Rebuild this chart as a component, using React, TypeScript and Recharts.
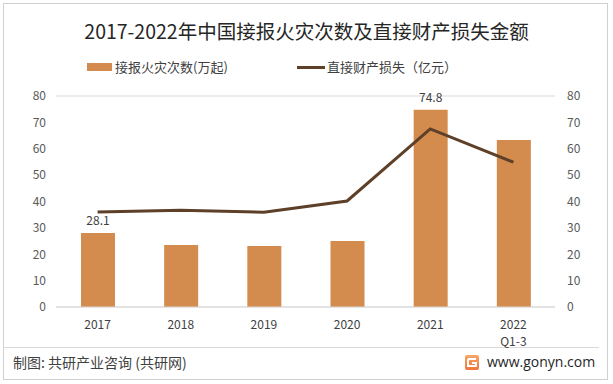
import React from 'react'
import { ComposedChart, Bar, Line, XAxis, YAxis, CartesianGrid, LabelList } from 'recharts'

const categories = ['2017', '2018', '2019', '2020', '2021', '2022\nQ1-3']
const fireCounts = [28.1, 23.5, 23.1, 25.0, 74.8, 63.3]
const directLoss = [36.0, 36.7, 35.9, 40.2, 67.5, 54.9]
const barLabels = ['28.1', '', '', '', '74.8', '']
const yTicks = [0, 10, 20, 30, 40, 50, 60, 70, 80]

const FONT = '"Noto Sans CJK SC", "Microsoft YaHei", sans-serif'
const BAR_COLOR = '#D38B4E'
const LINE_COLOR = '#5E3F28'

const data = categories.map((name, i) => ({
  name,
  fires: fireCounts[i],
  loss: directLoss[i],
  label: barLabels[i],
}))

function CategoryTick({ x, y, payload }: any) {
  const lines = String(payload.value).split('\n')
  return (
    <text x={x} y={y} textAnchor="middle" fill="#404040" fontSize={12} fontFamily={FONT}>
      {lines.map((l, i) => (
        <tspan key={i} x={x} dy={i === 0 ? 14 : 17}>
          {l}
        </tspan>
      ))}
    </text>
  )
}

function BarLabel(props: any) {
  const { x, y, width, index } = props
  const text = barLabels[index]
  if (!text) return null
  return (
    <text x={x + width / 2} y={y - 8} textAnchor="middle" fill="#404040" fontSize={12} fontFamily={FONT}>
      {text}
    </text>
  )
}

export default function App() {
  return (
    <div style={{ position: 'relative', width: 613, height: 384, background: '#fff', fontFamily: FONT }}>
      <style>{'body{margin:0}'}</style>
      <div
        style={{
          position: 'absolute', left: 3, top: 3, width: 605, height: 377,
          border: '1px solid #d0d0d0', boxSizing: 'border-box',
        }}
      />
      <div
        style={{
          position: 'absolute', left: 0, width: 613, top: 18, textAlign: 'center',
          fontSize: 19.5, color: '#262626', lineHeight: '26px',
        }}
      >
        2017-2022年中国接报火灾次数及直接财产损失金额
      </div>

      {/* legend */}
      <div style={{ position: 'absolute', left: 87, top: 63, width: 25, height: 8, background: BAR_COLOR }} />
      <div style={{ position: 'absolute', left: 115, top: 58, fontSize: 13, lineHeight: '18px', color: '#404040' }}>
        接报火灾次数(万起)
      </div>
      <div style={{ position: 'absolute', left: 297, top: 66, width: 28, height: 3, background: LINE_COLOR }} />
      <div style={{ position: 'absolute', left: 327, top: 58, fontSize: 13, lineHeight: '18px', color: '#404040' }}>
        直接财产损失（亿元）
      </div>

      {/* footer separator, drawn under the chart so tick text sits on top */}
      <div style={{ position: 'absolute', left: 3, top: 347, width: 596, height: 1, background: '#d9d9d9' }} />

      <div style={{ position: 'absolute', left: 0, top: 0 }}>
        <ComposedChart width={613} height={384} data={data} margin={{ top: 96, right: 0, bottom: 47, left: 0 }}>
          <CartesianGrid vertical={false} stroke="#d9d9d9" />
          <XAxis
            dataKey="name"
            height={30}
            interval={0}
            axisLine={{ stroke: '#d9d9d9' }}
            tickLine={false}
            tick={<CategoryTick />}
          />
          <YAxis
            yAxisId="left"
            width={56}
            domain={[0, 80]}
            ticks={yTicks}
            axisLine={false}
            tickLine={false}
            tickMargin={4}
            tick={{ fill: '#595959', fontSize: 12, fontFamily: FONT }}
          />
          <YAxis
            yAxisId="right"
            orientation="right"
            width={58}
            domain={[0, 80]}
            ticks={yTicks}
            axisLine={false}
            tickLine={false}
            tickMargin={6}
            tick={{ fill: '#595959', fontSize: 12, fontFamily: FONT }}
          />
          <Bar yAxisId="left" dataKey="fires" fill={BAR_COLOR} barSize={34} isAnimationActive={false}>
            <LabelList dataKey="label" content={<BarLabel />} />
          </Bar>
          <Line
            yAxisId="right"
            type="linear"
            dataKey="loss"
            stroke={LINE_COLOR}
            strokeWidth={3}
            dot={false}
            activeDot={false}
            isAnimationActive={false}
          />
        </ComposedChart>
      </div>

      {/* footer */}
      <div style={{ position: 'absolute', left: 13, top: 352, fontSize: 14, lineHeight: '20px', color: '#404040' }}>
        制图: 共研产业咨询 (共研网)
      </div>
      <svg style={{ position: 'absolute', left: 465, top: 355 }} width={14} height={15} viewBox="0 0 14 15">
        <defs>
          <linearGradient id="logo-grad" x1="0" y1="0" x2="0" y2="1">
            <stop offset="0%" stopColor="#F9A867" />
            <stop offset="100%" stopColor="#F0743A" />
          </linearGradient>
        </defs>
        <rect x={0} y={0} width={14} height={15} rx={2} fill="url(#logo-grad)" />
        <path d="M3 4 H11 M3 4 V11 H11 V8 H7" stroke="#fff" strokeWidth={2} fill="none" />
      </svg>
      <div style={{ position: 'absolute', left: 487, top: 352, fontSize: 14, lineHeight: '20px', color: '#262626', fontFamily: '"Open Sans", sans-serif' }}>
        www.gonyn.com
      </div>
    </div>
  )
}
